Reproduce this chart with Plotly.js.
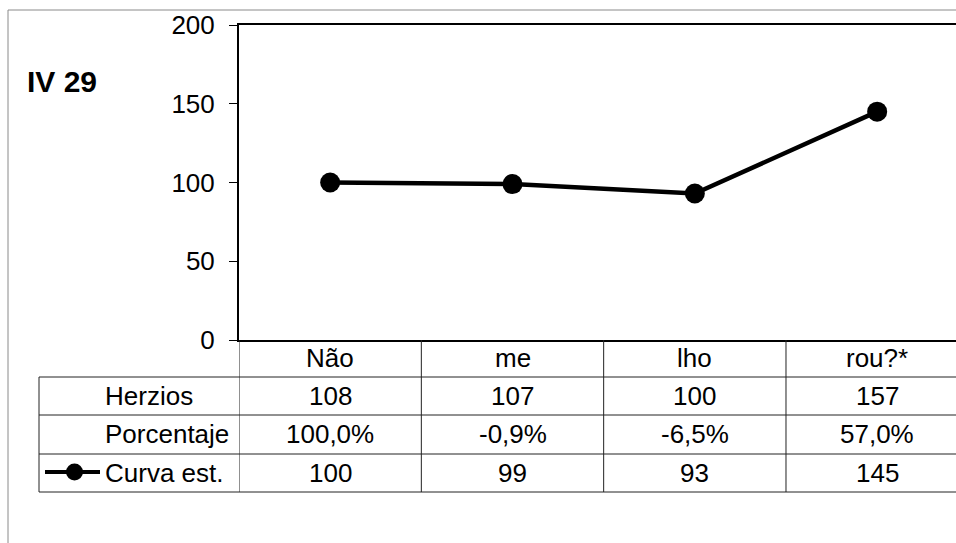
<!DOCTYPE html>
<html><head><meta charset="utf-8">
<script src="https://cdn.plot.ly/plotly-3.0.1.min.js"></script>
<style>html,body{margin:0;padding:0;background:#fff;overflow:hidden}#c{width:956px;height:543px}</style>
</head><body><div id="c"></div>
<script>
const categories = ['Não', 'me', 'lho', 'rou?*'];
const herzios = [108, 107, 100, 157];
const porcentaje = ['100,0%', '-0,9%', '-6,5%', '57,0%'];
const curva = [100, 99, 93, 145];
const rowLabels = ['Herzios', 'Porcentaje', 'Curva est.'];
const chartTitle = 'IV 29';

const W = 956, H = 543;
const L = 239, T = 25, B = 340, R = 956;
const colW = 182.33;
const pw = R - L, ph = B - T;
const px = v => (v - L) / pw;      // pixel x -> paper
const py = v => (B - v) / ph;      // pixel y -> paper
const FONT = '"Liberation Sans", Arial, sans-serif';
const FS = 26;

const rowLines = [377, 415, 454, 492];
const rowCenters = [358, 396, 434, 473];

const shapes = [];
// outer chart border
shapes.push({type:'line', xref:'paper', yref:'paper', x0:px(8), x1:px(8), y0:py(10), y1:py(560), line:{color:'#8a8a8a', width:1}});
shapes.push({type:'line', xref:'paper', yref:'paper', x0:px(8), x1:px(970), y0:py(10), y1:py(10), line:{color:'#8a8a8a', width:1}});
// table horizontal lines
rowLines.forEach(y => shapes.push({type:'line', xref:'paper', yref:'paper', x0:px(39), x1:px(980), y0:py(y), y1:py(y), line:{color:'#222', width:1}}));
// table left border
shapes.push({type:'line', xref:'paper', yref:'paper', x0:px(39), x1:px(39), y0:py(377), y1:py(492), line:{color:'#222', width:1}});
// column boundaries
for (let i = 0; i < categories.length; i++) {
  shapes.push({type:'line', xref:'x', yref:'paper', x0:i-0.5, x1:i-0.5, y0:0, y1:py(492), line:{color:'#222', width:1}});
}
// legend key
shapes.push({type:'line', xref:'paper', yref:'paper', x0:px(45), x1:px(100), y0:py(472), y1:py(472), line:{color:'#000', width:4}});
shapes.push({type:'circle', xref:'paper', yref:'paper', x0:px(66), x1:px(83), y0:py(463.5), y1:py(480.5), fillcolor:'#000', line:{color:'#000', width:0}});

const annotations = [];
annotations.push({xref:'paper', yref:'paper', x:px(25), y:py(81), xanchor:'left', yanchor:'middle', text:'<b>' + chartTitle + '</b>', showarrow:false, font:{family:FONT, size:30, color:'#000'}});
rowLabels.forEach((t, r) => annotations.push({xref:'paper', yref:'paper', x:px(103), y:py(rowCenters[r+1]), xanchor:'left', yanchor:'middle', text:t, showarrow:false, font:{family:FONT, size:FS, color:'#000'}}));
const rows = [categories, herzios.map(String), porcentaje, curva.map(String)];
rows.forEach((row, r) => row.forEach((t, i) => annotations.push({xref:'x', yref:'paper', x:i, y:py(rowCenters[r]), xanchor:'center', yanchor:'middle', text:t, showarrow:false, font:{family:FONT, size:FS, color:'#000'}})));

const trace = {
  x: categories.map((c, i) => i), y: curva, type:'scatter', mode:'lines+markers',
  line:{color:'#000', width:4.5}, marker:{color:'#000', size:20}, cliponaxis:false, showlegend:false, hoverinfo:'skip'
};

const layout = {
  width: W, height: H, margin:{l:L, r:W-R, t:T, b:H-B, pad:0},
  paper_bgcolor:'#fff', plot_bgcolor:'#fff', showlegend:false,
  font:{family:FONT, size:FS, color:'#000'},
  xaxis:{range:[-0.5, -0.5 + pw/colW], showgrid:false, zeroline:false, showticklabels:false, ticks:'', showline:true, mirror:true, linecolor:'#000', linewidth:2, fixedrange:true},
  yaxis:{range:[0,200], tickvals:[0,50,100,150,200], showgrid:false, zeroline:false, ticks:'outside', ticklen:8, tickwidth:1, tickcolor:'#000', ticklabelstandoff:9, showline:true, linecolor:'#000', linewidth:2, tickfont:{family:FONT, size:FS, color:'#000'}, fixedrange:true},
  shapes, annotations
};
Plotly.newPlot('c', [trace], layout, {staticPlot:true, displayModeBar:false});
</script></body></html>
